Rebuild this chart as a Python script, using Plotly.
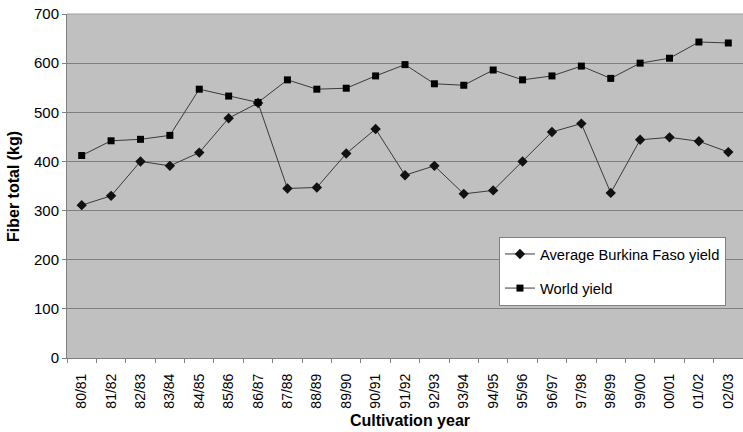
import plotly.graph_objects as go

years = ["80/81","81/82","82/83","83/84","84/85","85/86","86/87","87/88","88/89","89/90",
         "90/91","91/92","92/93","93/94","94/95","95/96","96/97","97/98","98/99","99/00",
         "00/01","01/02","02/03"]
burkina = [311, 330, 400, 391, 418, 488, 519, 345, 347, 416, 466, 372, 391, 334, 341, 400,
           460, 477, 336, 444, 449, 441, 419]
world = [412, 442, 445, 453, 547, 533, 520, 566, 547, 549, 574, 597, 558, 555, 586, 566,
         574, 594, 569, 600, 610, 643, 641]

FONT = "Liberation Sans, Arial, sans-serif"

fig = go.Figure()
fig.add_trace(go.Scatter(
    x=years, y=burkina, name="Average Burkina Faso yield", mode="lines+markers",
    line=dict(color="#3a3a3a", width=1),
    marker=dict(symbol="diamond", size=8, color="#111111"),
    legendgroup="a"))
fig.add_trace(go.Scatter(
    x=years, y=world, name="World yield", mode="lines+markers",
    line=dict(color="#3a3a3a", width=1),
    marker=dict(symbol="square", size=7, color="#000000"),
    legendgroup="b"))

fig.update_layout(
    width=743, height=432,
    margin=dict(l=67, r=0, t=14, b=74, autoexpand=False),
    paper_bgcolor="white", plot_bgcolor="#c0c0c0",
    font=dict(family=FONT, color="black", size=14),
    legend=dict(x=0.639, y=0.352, xanchor="left", yanchor="top",
                bgcolor="white", bordercolor="#808080", borderwidth=1,
                font=dict(size=14.7, family=FONT), tracegroupgap=12,
                traceorder="grouped"),
    showlegend=True,
)
fig.update_xaxes(
    type="category", tickangle=-90, tickson="boundaries", ticks="outside",
    ticklen=4, tickcolor="#808080", showline=True, linecolor="#808080",
    showgrid=False, tickfont=dict(size=14, family=FONT), automargin=False,
    ticklabelstandoff=9, range=[-0.5, 22.5])
fig.update_yaxes(
    range=[0, 700], dtick=100, ticks="outside", ticklen=4, tickcolor="#808080",
    showline=True, linecolor="#808080", gridcolor="#808080", gridwidth=1,
    zeroline=False, tickfont=dict(size=15, family=FONT), automargin=False)

fig.add_annotation(text="<b>Cultivation year</b>", xref="paper", yref="paper",
                   x=0.507, y=-0.183, xanchor="center", yanchor="middle",
                   showarrow=False, font=dict(size=16, family=FONT))
fig.add_annotation(text="<b>Fiber total (kg)</b>", xref="paper", yref="paper",
                   x=-0.0799, y=0.5, xanchor="center", yanchor="middle", textangle=-90,
                   showarrow=False, font=dict(size=16, family=FONT))
# top border of plot area
fig.add_shape(type="line", xref="paper", yref="paper", x0=0, x1=1, y0=1, y1=1,
              line=dict(color="#a0a0a0", width=1))

fig.write_html("out.html", config={"displayModeBar": False},
               post_script="document.body.style.margin='0';")
